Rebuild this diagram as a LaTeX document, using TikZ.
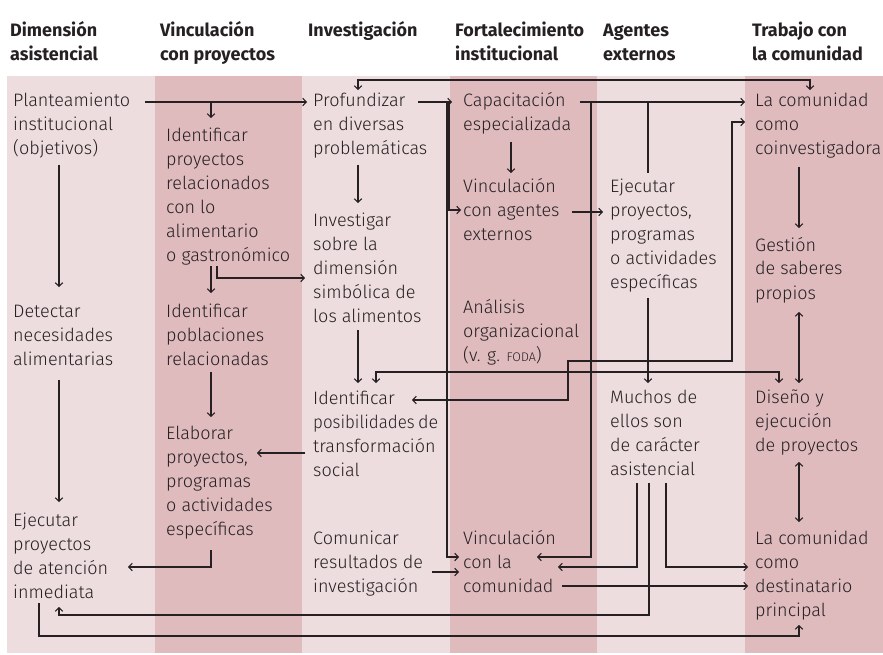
\documentclass[tikz,border=0pt]{standalone}
\usepackage{fontspec}
\setmainfont{Fira Sans}
\newfontfamily\bodyfont{Fira Sans Light}
\usetikzlibrary{arrows.meta}
\definecolor{bandlight}{RGB}{237,221,222}
\definecolor{banddark}{RGB}{223,187,190}
\definecolor{ink}{RGB}{38,32,34}
\newcommand{\ml}[1]{\begin{tabular}[t]{@{}l@{}}#1\end{tabular}}
\begin{document}
\begin{tikzpicture}[x=1pt,y=-1pt,
  txt/.style={anchor=base west, inner sep=0pt, font=\bodyfont\fontsize{18}{24}\selectfont, text=ink},
  hdr/.style={anchor=base west, inner sep=0pt, font=\bfseries\fontsize{18}{23.5}\selectfont, text=ink},
  tip/.style={-{Straight Barb[length=3.5pt,width=7.5pt]}},
  both/.style={{Straight Barb[length=3.5pt,width=7.5pt]}-{Straight Barb[length=3.5pt,width=7.5pt]}},
  conn/.style={draw=ink, line width=1.1pt},
]
\useasboundingbox (0,0) rectangle (883,655);
% bands
\fill[bandlight] (7,76) rectangle (883,653);
\fill[banddark] (155,76) rectangle (302,653);
\fill[banddark] (450,76) rectangle (597,653);
\fill[banddark] (745,76) rectangle (883,653);
% headers
\node[hdr] (h1) at (10,37) {\ml{Dimensión\\asistencial}};
\node[hdr] (h2) at (160,37) {\ml{Vinculación\\con proyectos}};
\node[hdr] (h3) at (308,37) {\ml{Investigación}};
\node[hdr] (h4) at (455,37) {\ml{Fortalecimiento\\institucional}};
\node[hdr] (h5) at (603,37) {\ml{Agentes\\externos}};
\node[hdr] (h6) at (752,37) {\ml{Trabajo con\\la comunidad}};
% column 1
\node[txt] (plan) at (13,107) {\ml{Planteamiento\\institucional\\(objetivos)}};
\node[txt] (detect) at (13,317) {\ml{Detectar\\necesidades\\alimentarias}};
\node[txt] (ejecA) at (13,526) {\ml{Ejecutar\\proyectos\\de atención\\inmediata}};
% column 2
\node[txt] (idproy) at (166,142) {\ml{Identificar\\proyectos\\relacionados\\con lo\\alimentario\\o gastronómico}};
\node[txt] (idpobl) at (166,317) {\ml{Identificar\\poblaciones\\relacionadas}};
\node[txt] (elab) at (166,439) {\ml{Elaborar\\proyectos,\\programas\\o actividades\\específicas}};
% column 3
\node[txt] (prof) at (313,107) {\ml{Profundizar\\en diversas\\problemáticas}};
\node[txt] (invest) at (313,226) {\ml{Investigar\\sobre la\\dimensión\\simbólica de\\los alimentos}};
\node[txt] (idpos) at (313,404) {\ml{Identificar\\{\addfontfeature{FakeStretch=0.94}posibilidades}\hspace{3.5pt}de\\transformación\\social}};
\node[txt] (comun) at (313,544) {\ml{Comunicar\\resultados de\\investigación}};
% column 4
\node[txt] (capac) at (463,107) {\ml{Capacitación\\especializada}};
\node[txt] (vagent) at (463,193) {\ml{Vinculación\\con agentes\\externos}};
\node[txt] (anal) at (463,313) {\ml{Análisis\\organizacional\\(v. g. {\fontsize{12.5}{12}\selectfont FODA})}};
\node[txt] (vcom) at (463,544) {\ml{Vinculación\\con la\\comunidad}};
% column 5
\node[txt] (ejecB) at (610,193) {\ml{Ejecutar\\proyectos,\\programas\\o actividades\\específicas}};
\node[txt] (muchos) at (610,403) {\ml{Muchos de\\ellos son\\de carácter\\asistencial}};
% column 6
\node[txt] (lcc) at (755,107) {\ml{La comunidad\\como\\coinvestigadora}};
\node[txt] (gest) at (755,251) {\ml{Gestión\\de saberes\\propios}};
\node[txt] (dis) at (755,403) {\ml{Diseño y\\ejecución\\de proyectos}};
\node[txt] (lcd) at (755,544) {\ml{La comunidad\\como\\destinatario\\principal}};

% connectors
\draw[conn,tip] (145,102) -- (307,102);
\draw[conn,tip] (211,102) -- (211,118);
\draw[conn,both] (358,90) -- (358,80) -- (810,80) -- (810,90);
\draw[conn,tip] (418,102) -- (452,102);
\draw[conn,tip] (449,102) -- (449,210) -- (461,210);
\draw[conn,tip] (447,102) -- (447,557) -- (459,557);
\draw[conn,tip] (432,572) -- (459,572);
\draw[conn,tip] (358,165) -- (358,203);
\draw[conn,tip] (211,266) -- (211,293);
\draw[conn,tip] (217,266) -- (217,278) -- (305,278);
\draw[conn,tip] (211,372) -- (211,417);
\draw[conn,tip] (358,330) -- (358,383);
\draw[conn,both] (376,383) -- (376,372) -- (779,372) -- (779,383);
\draw[conn,both] (745,122) -- (732,122) -- (732,361) -- (568,361) -- (568,400) -- (412,400);
\draw[conn,tip] (305,453) -- (257,453);
\draw[conn,tip] (211,550) -- (211,567) -- (128,567);
\draw[conn,tip] (59,165) -- (59,287);
\draw[conn,tip] (59,380) -- (59,502);
\draw[conn,tip] (580,102) -- (745,102);
\draw[conn] (648,173) -- (648,102);
\draw[conn,tip] (591,102) -- (591,557) -- (537,557);
\draw[conn,tip] (511,142) -- (511,173);
\draw[conn,tip] (572,212) -- (603,212);
\draw[conn,tip] (648,298) -- (648,383);
\draw[conn,tip] (637,483) -- (637,567) -- (558,567);
\draw[conn,tip] (649,483) -- (649,615) -- (59,615) -- (59,607);
\draw[conn,tip] (666,483) -- (666,567) -- (748,567);
\draw[conn,tip] (562,586) -- (748,586);
\draw[conn,tip] (39,603) -- (39,636) -- (799,636) -- (799,625);
\draw[conn,tip] (799,167) -- (799,228);
\draw[conn,both] (799,312) -- (799,383);
\draw[conn,both] (799,462) -- (799,522);
\end{tikzpicture}
\end{document}
